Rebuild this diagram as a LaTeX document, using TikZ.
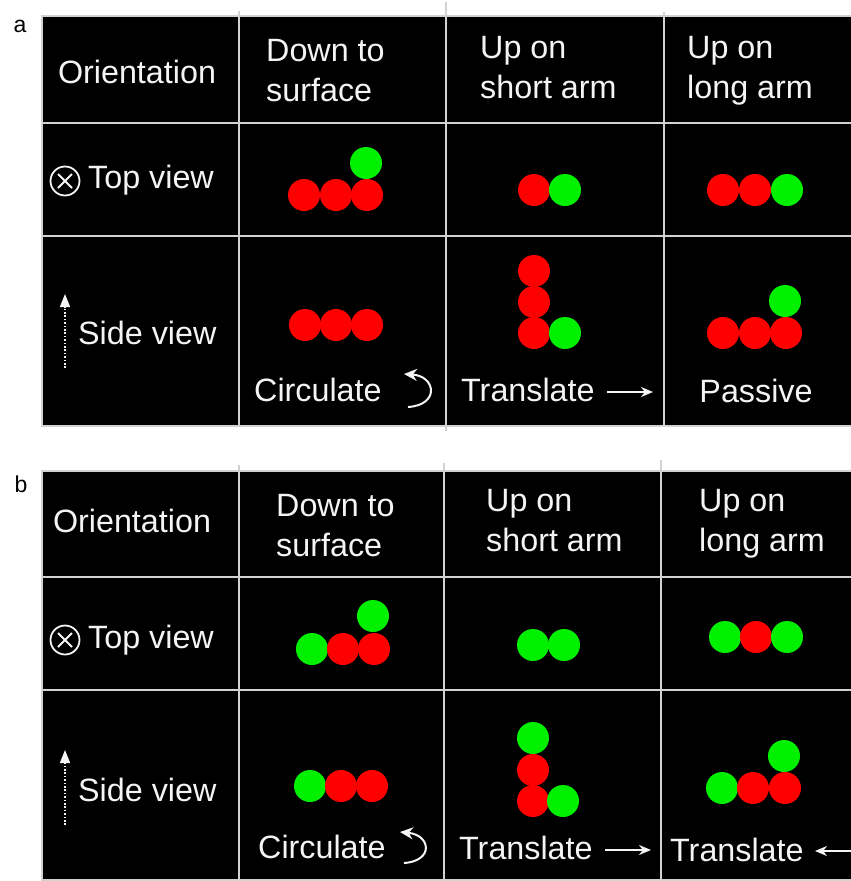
\documentclass[tikz,border=0pt]{standalone}
\usepackage{fontspec}
\setmainfont{Liberation Sans}
\usetikzlibrary{arrows.meta}
\definecolor{gridgray}{HTML}{D2D2D2}
\definecolor{ballred}{HTML}{FF0000}
\definecolor{ballgreen}{HTML}{00F000}
\definecolor{inkwhite}{HTML}{F4F4F4}
\begin{document}
\begin{tikzpicture}[x=1pt,y=-1pt,
  panel/.style={fill=black, draw=gridgray, line width=2},
  gridline/.style={draw=gridgray, line width=2},
  lbl/.style={text=inkwhite, font=\fontsize{32.3}{40}\selectfont, inner sep=0, anchor=base west},
  lblc/.style={lbl, anchor=base},
  tag/.style={text=black, font=\fontsize{23}{28}\selectfont, inner sep=0, anchor=base},
  ball/.style={circle, minimum size=32, inner sep=0},
  rb/.style={ball, fill=ballred},
  gb/.style={ball, fill=ballgreen},
  otimes/.style={circle, draw=inkwhite, line width=1.8, minimum size=29, inner sep=0,
    path picture={\draw[inkwhite, line width=2]
      ([shift={(-7,-7)}]path picture bounding box.center) -- ([shift={(7,7)}]path picture bounding box.center)
      ([shift={(-7,7)}]path picture bounding box.center) -- ([shift={(7,-7)}]path picture bounding box.center);}},
  uparrow/.style={draw=inkwhite, line width=1.7, dash pattern=on 1.7pt off 1.7pt, -{Triangle[length=13,width=10]}},
  movearrow/.style={draw=inkwhite, line width=2, -{Stealth[length=12,width=10]}},
  turnarrow/.style={draw=inkwhite, line width=2, -{Stealth[length=13,width=12]}}
]
\useasboundingbox (0,0) rectangle (851,881);

% ---------------- panel a ----------------
\node[tag] (taga) at (20,32) {a};
\draw[panel] (42,16) rectangle (870,426);
\draw[gridline] (239,11) -- (239,426);
\draw[gridline] (446,2) -- (446,431);
\draw[gridline] (664,12) -- (664,426);
\draw[gridline] (42,123) -- (870,123);
\draw[gridline] (42,236) -- (870,236);

% header row
\node[lblc] (ora) at (137,83) {Orientation};
\node[lbl] (hA1a) at (266,61) {Down to};
\node[lbl] (hA1b) at (266,101) {surface};
\node[lbl] (hA2a) at (480,58) {Up on};
\node[lbl] (hA2b) at (480,98) {short arm};
\node[lbl] (hA3a) at (687,58) {Up on};
\node[lbl] (hA3b) at (687,98) {long arm};

% top view row
\node[otimes] (oxa) at (65,181) {};
\node[lbl] (tva) at (88,188) {Top view};
\node[rb] (a11) at (304,195) {};
\node[rb] (a12) at (336,195) {};
\node[rb] (a13) at (367,195) {};
\node[gb] (a14) at (366,163) {};
\node[rb] (a21) at (534,190) {};
\node[gb] (a22) at (565,190) {};
\node[rb] (a31) at (723,190) {};
\node[rb] (a32) at (755,190) {};
\node[gb] (a33) at (787,190) {};

% side view row
\coordinate (sa0) at (65,368);
\coordinate (sa1) at (65,294);
\draw[uparrow] (sa0) -- (sa1);
\node[lbl] (sva) at (78,344) {Side view};
\node[rb] (b11) at (305,325) {};
\node[rb] (b12) at (336,325) {};
\node[rb] (b13) at (367,325) {};
\node[rb] (b21) at (534,271) {};
\node[rb] (b22) at (534,302) {};
\node[rb] (b23) at (534,333) {};
\node[gb] (b24) at (565,333) {};
\node[rb] (b31) at (723,333) {};
\node[rb] (b32) at (755,333) {};
\node[rb] (b33) at (786,333) {};
\node[gb] (b34) at (785,301) {};

% motion labels
\node[lbl] (cira) at (254,401) {Circulate};
\coordinate (ca0) at (408,407);
\coordinate (ca1) at (404,374);
\draw[turnarrow] (ca0) .. controls (440,405) and (436,376) .. (ca1);
\node[lbl] (tra) at (461,401) {Translate};
\coordinate (ta0) at (607,392);
\coordinate (ta1) at (653,392);
\draw[movearrow] (ta0) -- (ta1);
\node[lblc] (pas) at (756,402) {Passive};

% ---------------- panel b ----------------
\node[tag] (tagb) at (21,492) {b};
\draw[panel] (42,471) rectangle (870,880);
\draw[gridline] (239,465) -- (239,880);
\draw[gridline] (444,463) -- (444,880);
\draw[gridline] (661,460) -- (661,880);
\draw[gridline] (42,577) -- (870,577);
\draw[gridline] (42,690) -- (870,690);

% header row
\node[lblc] (orb) at (132,532) {Orientation};
\node[lbl] (hB1a) at (276,516) {Down to};
\node[lbl] (hB1b) at (276,556) {surface};
\node[lbl] (hB2a) at (486,511) {Up on};
\node[lbl] (hB2b) at (486,551) {short arm};
\node[lbl] (hB3a) at (699,511) {Up on};
\node[lbl] (hB3b) at (699,551) {long arm};

% top view row
\node[otimes] (oxb) at (65,640) {};
\node[lbl] (tvb) at (88,648) {Top view};
\node[gb] (c11) at (312,649) {};
\node[rb] (c12) at (343,649) {};
\node[rb] (c13) at (374,649) {};
\node[gb] (c14) at (373,616) {};
\node[gb] (c21) at (533,645) {};
\node[gb] (c22) at (564,645) {};
\node[gb] (c31) at (725,637) {};
\node[rb] (c32) at (756,637) {};
\node[gb] (c33) at (787,637) {};

% side view row
\coordinate (sb0) at (65,825);
\coordinate (sb1) at (65,750);
\draw[uparrow] (sb0) -- (sb1);
\node[lbl] (svb) at (78,801) {Side view};
\node[gb] (d11) at (310,786) {};
\node[rb] (d12) at (341,786) {};
\node[rb] (d13) at (372,786) {};
\node[gb] (d21) at (533,738) {};
\node[rb] (d22) at (533,770) {};
\node[rb] (d23) at (533,801) {};
\node[gb] (d24) at (563,801) {};
\node[gb] (d31) at (722,788) {};
\node[rb] (d32) at (753,788) {};
\node[rb] (d33) at (785,788) {};
\node[gb] (d34) at (784,756) {};

% motion labels
\node[lbl] (cirb) at (258,858) {Circulate};
\coordinate (cb0) at (404,863);
\coordinate (cb1) at (400,832);
\draw[turnarrow] (cb0) .. controls (434,861) and (431,835) .. (cb1);
\node[lbl] (trb) at (459,859) {Translate};
\coordinate (tb0) at (605,850);
\coordinate (tb1) at (651,850);
\draw[movearrow] (tb0) -- (tb1);
\node[lbl] (trc) at (670,861) {Translate};
\coordinate (tc0) at (856,851);
\coordinate (tc1) at (815,851);
\draw[movearrow] (tc0) -- (tc1);
\end{tikzpicture}
\end{document}
